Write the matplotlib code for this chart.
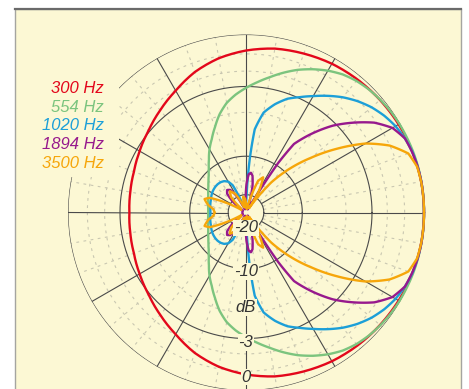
import numpy as np
import matplotlib
matplotlib.use('Agg')
import matplotlib.pyplot as plt
from matplotlib.patches import Rectangle
from matplotlib.lines import Line2D

# Polar response, upper half (0..180 deg). Values are sound pressure relative
# to the on-axis level (1.0 = 0 dB); the lower half is the mirror image.
ang_300 = [0, 10, 20, 30, 40, 50, 60, 70, 80, 90, 100, 110, 120, 130, 140, 150, 160, 170, 180]
p_300 = [1.0, 0.999, 0.995, 0.99, 0.983, 0.975, 0.965, 0.95, 0.935, 0.91, 0.88, 0.84,
         0.79, 0.75, 0.715, 0.69, 0.67, 0.66, 0.655]

ang_554 = [0, 5, 10, 15, 20, 25, 30, 35, 40, 45, 50, 55, 60, 65, 70, 75, 80, 85, 90, 95,
           100, 105, 110, 115, 120, 125, 130, 135, 140, 145, 150, 155, 160, 165, 170, 175, 180]
p_554 = [1.0, 1.0, 1.0, 1.0, 0.999, 0.997, 0.995, 0.991, 0.985, 0.977, 0.965, 0.947,
         0.92, 0.888, 0.853, 0.813, 0.772, 0.735, 0.70, 0.665, 0.625, 0.572, 0.51, 0.455,
         0.41, 0.363, 0.325, 0.296, 0.275, 0.258, 0.245, 0.234, 0.226, 0.22, 0.216, 0.213,
         0.212]

ang_1020 = [0, 5, 10, 15, 20, 25, 30, 35, 40, 45, 50, 55, 60, 65, 70, 75, 80, 84, 86, 88,
            90, 100, 110, 113, 116, 120, 125, 130, 135, 140, 145, 150, 155, 160, 165, 170,
            175, 180]
p_1020 = [1.0, 1.0, 1.0, 0.998, 0.995, 0.985, 0.97, 0.948, 0.92, 0.885, 0.845, 0.80,
          0.755, 0.715, 0.68, 0.63, 0.57, 0.47, 0.30, 0.10, 0.02, 0.02, 0.03, 0.08, 0.17,
          0.20, 0.215, 0.222, 0.225, 0.225, 0.223, 0.22, 0.215, 0.21, 0.207, 0.204, 0.201,
          0.20]

ang_1894 = [0, 5, 10, 15, 20, 25, 30, 35, 40, 45, 50, 55, 57, 58.5, 61, 68, 72, 76, 80,
            83, 86, 89, 92, 95, 110, 116, 120, 125, 130, 135, 140, 145, 150, 180]
p_1894 = [1.0, 1.0, 1.0, 0.998, 0.993, 0.985, 0.95, 0.88, 0.785, 0.69, 0.58, 0.47, 0.33,
          0.10, 0.02, 0.02, 0.06, 0.15, 0.21, 0.225, 0.215, 0.16, 0.06, 0.02, 0.02, 0.05,
          0.11, 0.155, 0.165, 0.15, 0.10, 0.03, 0.02, 0.02]

ang_3500 = [0, 5, 10, 15, 20, 25, 30, 35, 40, 45, 50, 53, 55, 59, 64, 69, 74, 78, 85, 95,
            100, 106, 113, 120, 127, 134, 140, 150, 155, 158, 162, 168, 174, 180]
p_3500 = [1.0, 1.0, 0.999, 0.995, 0.97, 0.89, 0.775, 0.625, 0.48, 0.35, 0.22, 0.10, 0.03,
          0.14, 0.22, 0.19, 0.06, 0.02, 0.03, 0.08, 0.09, 0.03, 0.04, 0.12, 0.15, 0.12,
          0.04, 0.03, 0.15, 0.22, 0.245, 0.22, 0.185, 0.175]

series = [
    ('300 Hz', ang_300, p_300, '#e3071b'),
    ('554 Hz', ang_554, p_554, '#7cc47e'),
    ('1020 Hz', ang_1020, p_1020, '#1c9fd8'),
    ('1894 Hz', ang_1894, p_1894, '#97198d'),
    ('3500 Hz', ang_3500, p_3500, '#f6a60a'),
]

ring_db = [-20, -10, -3, 0]
ring_labels = ['-20', '-10', '-3', '0']
minor_ring_db = [-1, -2, -5, -15]

W, H = 469, 389
cream = '#fcf8d4'
grid_col = '#4a4a4a'
dash_col = '#c9c7b1'

fig = plt.figure(figsize=(W / 100, H / 100), dpi=100)
fig.patch.set_facecolor('white')

# cream panel with its frame (dark top edge, lighter sides)
fig.patches.append(Rectangle((15 / W, -0.05), 446 / W, 1.05 - 9 / H,
                             transform=fig.transFigure, facecolor=cream,
                             edgecolor='#a5a5a0', lw=1.0, zorder=-5))
fig.lines.append(Line2D([15 / W, 461 / W], [1 - 9 / H, 1 - 9 / H],
                        transform=fig.transFigure, color='#6a6a6a', lw=1.6,
                        zorder=-4))

cx, cy, R = 246, 212.5, 178
ax = fig.add_axes([(cx - R) / W, (H - cy - R) / H, 2 * R / W, 2 * R / H],
                  projection='polar')
ax.set_facecolor('none')
ax.set_theta_zero_location('E')
ax.set_ylim(0, 1)
ax.set_xticks([])
ax.set_yticks([])
ax.grid(False)
ax.spines['polar'].set_visible(False)

def amp(db):
    return 10 ** (np.asarray(db, dtype=float) / 20)

full = np.linspace(0, 2 * np.pi, 721)

# dashed fine grid
for d in minor_ring_db:
    ax.plot(full, np.full_like(full, amp(d)), color=dash_col, lw=0.8,
            dashes=(2.5, 4), zorder=1)
for a in range(0, 360, 10):
    if a % 30:
        ax.plot([np.deg2rad(a)] * 2, [0.1, 1], color=dash_col, lw=0.8,
                dashes=(2.5, 4), zorder=1)

# main grid: dB rings and 30 deg spokes
for d in ring_db:
    ax.plot(full, np.full_like(full, amp(d)), color=grid_col, lw=0.8, zorder=2)
for a in range(0, 360, 30):
    ax.plot([np.deg2rad(a)] * 2, [0.1, 1], color=grid_col, lw=0.8, zorder=2)

# blank area behind the legend
ax.add_patch(Rectangle((28 / W, 1 - 177 / H), 91 / W, 91 / H,
                       transform=fig.transFigure, facecolor=cream,
                       edgecolor='none', zorder=2.5, clip_on=False))

for name, ang, p, col in series:
    ang = np.asarray(ang, dtype=float)
    p = np.asarray(p, dtype=float)
    th = np.deg2rad(np.r_[ang, 360 - ang[-2::-1]])
    r = np.r_[p, p[-2::-1]]
    line, = ax.plot(th, r, color=col, lw=1.7, zorder=3, clip_on=False,
                    solid_joinstyle='round', solid_capstyle='round')
    # follow the polar grid between samples instead of straight chords
    line.get_path()._interpolation_steps = 12

# ring values along the downward axis
label_font = dict(family='Liberation Sans', style='italic', size=12, color='#333333')
box = dict(facecolor=cream, edgecolor='none', pad=0.6)
label_r = [0.087, 0.33, 0.73, 0.925]
for lab, rr in zip(ring_labels, label_r):
    ax.text(-np.pi / 2, rr, lab, ha='center', va='center', bbox=box, zorder=4,
            **label_font)
ax.text(-np.pi / 2, 0.535, 'dB', ha='center', va='center', bbox=box, zorder=4,
        **label_font)

# legend
leg_y = [88.3, 107.3, 125.7, 144.3, 163.3]
for (name, ang, p, col), y in zip(series, leg_y):
    fig.text(104 / W, 1 - y / H, name, ha='right', va='center', color=col,
             family='Liberation Sans', style='italic', size=12)

fig.savefig('out.png', dpi=100, facecolor='white')
